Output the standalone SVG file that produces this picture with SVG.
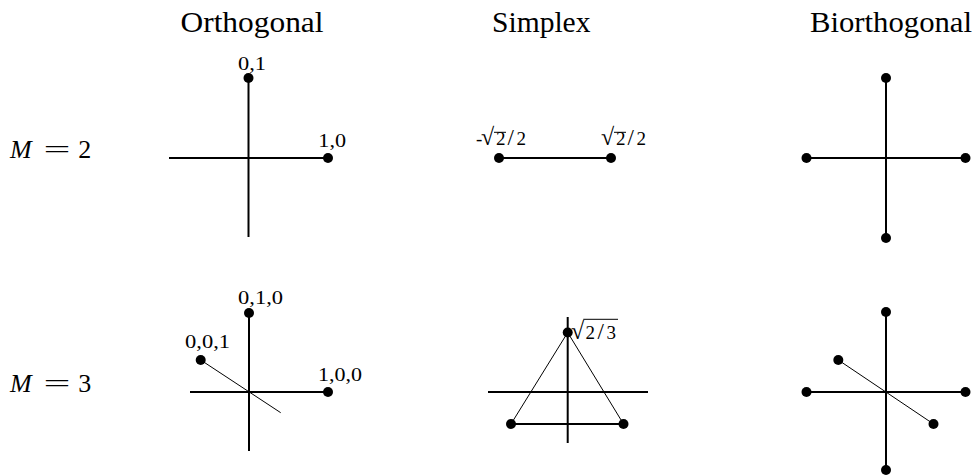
<svg xmlns="http://www.w3.org/2000/svg" width="972" height="475" viewBox="0 0 972 475">
<style>
.ax{stroke:#000;stroke-width:2;fill:none}
.th{stroke:#000;stroke-width:1;fill:none}
.dot{fill:#000}
.title{font-family:"Liberation Serif","DejaVu Serif",serif;font-size:29px;fill:#000}
.row{font-family:"Liberation Serif","DejaVu Serif",serif;font-size:26px;fill:#000}
.lbl{font-family:"Liberation Serif","DejaVu Serif",serif;font-size:19px;fill:#000}
.rad{font-size:24px}
.sl{font-size:23px}
.it{font-style:italic}
</style>
<rect width="972" height="475" fill="#fff"/>
<g id="titles">
<text class="title" x="180.5" y="31.5" textLength="143" lengthAdjust="spacingAndGlyphs">Orthogonal</text>
<text class="title" x="492" y="31.5" textLength="98.5" lengthAdjust="spacingAndGlyphs">Simplex</text>
<text class="title" x="810" y="31.5" textLength="162" lengthAdjust="spacingAndGlyphs">Biorthogonal</text>
</g>
<g id="rowlabels">
<text class="row it" x="10" y="158">M</text>
<text class="row" x="43.5" y="158" textLength="27" lengthAdjust="spacingAndGlyphs">=</text>
<text class="row" x="78.3" y="158">2</text>
<text class="row it" x="10" y="392">M</text>
<text class="row" x="43.5" y="392" textLength="27" lengthAdjust="spacingAndGlyphs">=</text>
<text class="row" x="78.3" y="392">3</text>
</g>
<g id="connectors">
<line class="ax" x1="169" y1="158" x2="328" y2="158"/>
<line class="ax" x1="248.5" y1="78" x2="248.5" y2="237"/>
<line class="ax" x1="499" y1="158" x2="611" y2="158"/>
<line class="ax" x1="806.5" y1="158" x2="965.5" y2="158"/>
<line class="ax" x1="886" y1="78" x2="886" y2="238"/>
<line class="ax" x1="190" y1="392" x2="328" y2="392"/>
<line class="ax" x1="249" y1="313" x2="249" y2="451"/>
<line class="th" x1="200.7" y1="360" x2="280.7" y2="412.7"/>
<line class="ax" x1="488" y1="392" x2="648" y2="392"/>
<line class="ax" x1="567.7" y1="317" x2="567.7" y2="443"/>
<line class="ax" x1="511" y1="424" x2="623.5" y2="424"/>
<line class="th" x1="567.7" y1="332.5" x2="511" y2="424"/>
<line class="th" x1="567.7" y1="332.5" x2="623.5" y2="424"/>
<line class="ax" x1="806.5" y1="392" x2="965.5" y2="392"/>
<line class="ax" x1="886" y1="312" x2="886" y2="470"/>
<line class="th" x1="838.3" y1="360" x2="933.5" y2="424"/>
</g>
<g id="orth2">
<circle class="dot" cx="248.5" cy="78" r="5"/>
<circle class="dot" cx="328" cy="158" r="5"/>
<text class="lbl" x="238" y="70" textLength="28" lengthAdjust="spacingAndGlyphs">0,1</text>
<text class="lbl" x="318.3" y="146.7" textLength="27.7" lengthAdjust="spacingAndGlyphs">1,0</text>
</g>
<g id="simp2">
<circle class="dot" cx="499" cy="158" r="5"/>
<circle class="dot" cx="611" cy="158" r="5"/>
<text class="lbl" y="145"><tspan x="476">-</tspan><tspan class="rad" x="481">√</tspan><tspan x="496">2</tspan><tspan class="sl" x="507.5">/</tspan><tspan x="516.5">2</tspan></text>
<line class="th" x1="494" y1="132.3" x2="506" y2="132.3"/>
<text class="lbl" y="145"><tspan class="rad" x="601">√</tspan><tspan x="616">2</tspan><tspan class="sl" x="627.5">/</tspan><tspan x="636.5">2</tspan></text>
<line class="th" x1="614" y1="132.3" x2="626" y2="132.3"/>
</g>
<g id="bior2">
<circle class="dot" cx="886" cy="78" r="5"/>
<circle class="dot" cx="886" cy="238" r="5"/>
<circle class="dot" cx="806.5" cy="158" r="5"/>
<circle class="dot" cx="965.5" cy="158" r="5"/>
</g>
<g id="orth3">
<circle class="dot" cx="249" cy="313" r="5"/>
<circle class="dot" cx="328" cy="392" r="5"/>
<circle class="dot" cx="200.7" cy="360" r="5"/>
<text class="lbl" x="238" y="304" textLength="45" lengthAdjust="spacingAndGlyphs">0,1,0</text>
<text class="lbl" x="185" y="348.3" textLength="45" lengthAdjust="spacingAndGlyphs">0,0,1</text>
<text class="lbl" x="318" y="381" textLength="44" lengthAdjust="spacingAndGlyphs">1,0,0</text>
</g>
<g id="simp3">
<circle class="dot" cx="567.7" cy="332.5" r="5"/>
<circle class="dot" cx="511" cy="424" r="5"/>
<circle class="dot" cx="623.5" cy="424" r="5"/>
<text class="lbl" y="338.7"><tspan class="rad" x="571">√</tspan><tspan x="585.5">2</tspan><tspan class="sl" x="597.5">/</tspan><tspan x="606.5">3</tspan></text>
<line class="th" x1="583.3" y1="319.3" x2="618" y2="319.3"/>
</g>
<g id="bior3">
<circle class="dot" cx="886" cy="312" r="5"/>
<circle class="dot" cx="886" cy="470" r="5"/>
<circle class="dot" cx="806.5" cy="392" r="5"/>
<circle class="dot" cx="965.5" cy="392" r="5"/>
<circle class="dot" cx="838.3" cy="360" r="5"/>
<circle class="dot" cx="933.5" cy="424" r="5"/>
</g>
</svg>
